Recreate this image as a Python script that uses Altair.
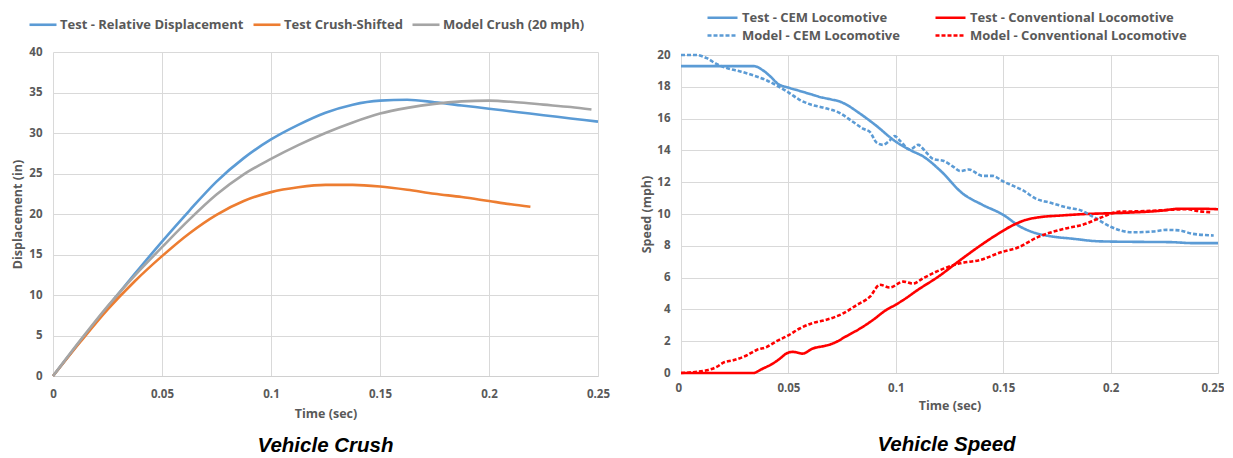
import altair as alt
import pandas as pd

# ---------------- Vehicle Crush data ----------------
crush_time = [0, 0.0125, 0.025, 0.0375, 0.05, 0.0625, 0.075, 0.0875, 0.1, 0.1125,
              0.125, 0.1375, 0.15, 0.1625, 0.175, 0.1875, 0.2, 0.2125, 0.225, 0.2375, 0.25]
test_rel_disp = [0, 4.3, 8.5, 12.6, 16.6, 20.4, 24.0, 26.9, 29.2, 31.0,
                 32.5, 33.5, 34.0, 34.1, 33.8, 33.4, 33.0, 32.6, 32.2, 31.8, 31.4]
model_time = [0, 0.0125, 0.025, 0.0375, 0.05, 0.0625, 0.075, 0.0875, 0.1, 0.1125,
              0.125, 0.1375, 0.15, 0.1625, 0.175, 0.1875, 0.2, 0.2125, 0.225, 0.2375, 0.247]
model_crush = [0, 4.4, 8.6, 12.4, 15.9, 19.3, 22.4, 24.9, 26.8, 28.5,
               30.0, 31.3, 32.4, 33.1, 33.6, 33.9, 34.0, 33.8, 33.5, 33.2, 32.9]
shift_time = [0, 0.0125, 0.025, 0.0375, 0.05, 0.0625, 0.075, 0.0875, 0.1, 0.1125,
              0.125, 0.1375, 0.15, 0.1625, 0.175, 0.1875, 0.2, 0.21, 0.219]
test_crush_shifted = [0, 4.2, 8.2, 11.7, 14.8, 17.6, 19.9, 21.6, 22.7, 23.3,
                      23.6, 23.6, 23.4, 23.0, 22.5, 22.1, 21.6, 21.2, 20.9]
crush_series = ["Test - Relative Displacement", "Test Crush-Shifted", "Model Crush (20 mph)"]
crush_colors = ["#5B9BD5", "#ED7D31", "#A5A5A5"]

# ---------------- Vehicle Speed data ----------------
tcem_time = [0, 0.02, 0.034, 0.038, 0.042, 0.045, 0.05, 0.055, 0.06, 0.065, 0.07, 0.074,
             0.078, 0.082, 0.09, 0.1, 0.107, 0.113, 0.121, 0.131, 0.14, 0.15, 0.158,
             0.165, 0.172, 0.182, 0.195, 0.21, 0.228, 0.238, 0.25]
tcem_speed = [19.3, 19.3, 19.3, 19.05, 18.6, 18.2, 17.95, 17.75, 17.55, 17.35, 17.2, 17.07,
              16.8, 16.44, 15.65, 14.55, 14.0, 13.6, 12.7, 11.3, 10.6, 9.95, 9.2,
              8.8, 8.6, 8.45, 8.28, 8.25, 8.23, 8.17, 8.17]
tconv_time = [0, 0.0335, 0.038, 0.0428, 0.046, 0.049, 0.052, 0.0566, 0.0613, 0.0667, 0.0706,
              0.0768, 0.0846, 0.0893, 0.0955, 0.1, 0.1047, 0.1094, 0.1202, 0.13, 0.1376,
              0.147, 0.1546, 0.1608, 0.167, 0.1763, 0.1887, 0.2, 0.2105, 0.223, 0.232,
              0.2415, 0.25]
tconv_speed = [0, 0, 0.27, 0.6, 0.9, 1.22, 1.33, 1.22, 1.54, 1.7, 1.85,
               2.3, 2.9, 3.33, 3.96, 4.3, 4.7, 5.15, 6.1, 7.1, 7.85,
               8.7, 9.3, 9.64, 9.8, 9.9, 10.0, 10.05, 10.1, 10.2, 10.33,
               10.33, 10.3]
mcem_time = [0, 0.007, 0.012, 0.017, 0.022, 0.028, 0.034, 0.04, 0.045, 0.05, 0.055, 0.06,
             0.066, 0.074, 0.08, 0.085, 0.088, 0.091, 0.094, 0.097, 0.0995, 0.102, 0.1066,
             0.1104, 0.114, 0.1175, 0.122, 0.127, 0.13, 0.134, 0.1403, 0.145, 0.15, 0.155,
             0.159, 0.1654, 0.1716, 0.181, 0.1855, 0.1917, 0.2, 0.205, 0.2105, 0.2198,
             0.226, 0.232, 0.238, 0.248]
mcem_speed = [20.0, 20.0, 19.8, 19.4, 19.15, 18.95, 18.7, 18.4, 18.05, 17.65, 17.2, 16.9,
              16.7, 16.35, 15.8, 15.35, 15.15, 14.5, 14.35, 14.6, 14.9, 14.6, 14.05,
              14.35, 13.9, 13.45, 13.35, 12.95, 12.7, 12.8, 12.4, 12.4, 12.05, 11.75,
              11.5, 10.95, 10.72, 10.37, 10.26, 9.84, 9.2, 8.95, 8.85, 8.9,
              9.0, 8.97, 8.76, 8.65]
mconv_time = [0, 0.0057, 0.012, 0.0166, 0.0197, 0.0243, 0.0305, 0.0352, 0.0398, 0.0445,
              0.05, 0.0553, 0.0615, 0.0677, 0.0755, 0.0817, 0.088, 0.0926, 0.0972, 0.1035,
              0.108, 0.1127, 0.122, 0.13, 0.1391, 0.15, 0.156, 0.167, 0.1763, 0.1887,
              0.195, 0.2043, 0.2137, 0.223, 0.2355, 0.2415, 0.247]
mconv_speed = [0, 0.05, 0.17, 0.38, 0.65, 0.8, 1.1, 1.45, 1.63, 2.0,
               2.37, 2.8, 3.15, 3.35, 3.75, 4.27, 4.8, 5.55, 5.38, 5.75,
               5.62, 5.96, 6.55, 6.9, 7.1, 7.64, 7.85, 8.6, 9.0, 9.4,
               9.75, 10.15, 10.17, 10.23, 10.3, 10.17, 10.1]
speed_series = ["Test - CEM Locomotive", "Test - Conventional Locomotive",
                "Model - CEM Locomotive", "Model - Conventional Locomotive"]
speed_colors = ["#5B9BD5", "#FF0000", "#5B9BD5", "#FF0000"]

x_ticks = [0, 0.05, 0.1, 0.15, 0.2, 0.25]


def frame(times, values, name, field):
    return pd.DataFrame({"t": times, "v": values, field: name, "k": range(len(times))})


crush_df = pd.concat([
    frame(crush_time, test_rel_disp, crush_series[0], "crush"),
    frame(shift_time, test_crush_shifted, crush_series[1], "crush"),
    frame(model_time, model_crush, crush_series[2], "crush"),
])
speed_df = pd.concat([
    frame(tcem_time, tcem_speed, speed_series[0], "speed"),
    frame(tconv_time, tconv_speed, speed_series[1], "speed"),
    frame(mcem_time, mcem_speed, speed_series[2], "speed"),
    frame(mconv_time, mconv_speed, speed_series[3], "speed"),
])

GRAY = "#595959"
FONT = "Open Sans"

crush = alt.Chart(crush_df).mark_line(strokeWidth=2.6, interpolate="monotone").encode(
    x=alt.X("t:Q", scale=alt.Scale(domain=[0, 0.25], nice=False),
            axis=alt.Axis(values=x_ticks, format="~g", title="Time (sec)", labelFlush=False,
                          labelPadding=12, titlePadding=8)),
    y=alt.Y("v:Q", scale=alt.Scale(domain=[0, 40], nice=False),
            axis=alt.Axis(values=list(range(0, 41, 5)), title="Displacement (in)",
                          labelPadding=11, titlePadding=4, domain=False)),
    color=alt.Color("crush:N", scale=alt.Scale(domain=crush_series, range=crush_colors),
                    legend=alt.Legend(orient="none", legendX=-25, legendY=-34,
                                      direction="horizontal", title=None,
                                      symbolType="M-1,0H4.4", symbolSize=100,
                                      symbolStrokeWidth=2.6, labelOffset=19,
                                      columnPadding=4, labelLimit=400)),
    order="k:Q",
).properties(
    width=545, height=324,
    title=alt.TitleParams("Vehicle Crush", orient="bottom", frame="group", dx=0,
                          offset=16, font="Liberation Sans", fontSize=20.5,
                          fontWeight="bold", fontStyle="italic", color="#000000"),
)

speed = alt.Chart(speed_df).mark_line(interpolate="monotone").encode(
    x=alt.X("t:Q", scale=alt.Scale(domain=[0, 0.25], nice=False),
            axis=alt.Axis(values=x_ticks, format="~g", title="Time (sec)", labelFlush=True,
                          labelFlushOffset=6, labelPadding=9, titlePadding=6)),
    y=alt.Y("v:Q", scale=alt.Scale(domain=[0, 20], nice=False),
            axis=alt.Axis(values=list(range(0, 21, 2)), title="Speed (mph)",
                          labelPadding=11, titlePadding=3, domain=False)),
    color=alt.Color("speed:N", scale=alt.Scale(domain=speed_series, range=speed_colors),
                    legend=alt.Legend(orient="none", legendX=25, legendY=-44,
                                      columns=2, direction="horizontal", title=None,
                                      symbolType="M-1,0H5", symbolSize=100, labelOffset=23,
                                      columnPadding=30, rowPadding=4, labelLimit=400)),
    strokeDash=alt.StrokeDash("speed:N", scale=alt.Scale(
        domain=speed_series, range=[[1, 0], [1, 0], [4, 2], [4, 2]])),
    strokeWidth=alt.StrokeWidth("speed:N", scale=alt.Scale(
        domain=speed_series, range=[2.6, 2.6, 1.2, 1.2])),
    order="k:Q",
).properties(
    width=537, height=318,
    title=alt.TitleParams("Vehicle Speed", orient="bottom", frame="group", dx=-3,
                          offset=23, font="Liberation Sans", fontSize=20.5,
                          fontWeight="bold", fontStyle="italic", color="#000000"),
)

chart = alt.hconcat(crush, speed, spacing=83, bounds="flush", center=True).resolve_scale(
    color="independent", strokeDash="independent", strokeWidth="independent",
    x="independent", y="independent"
).resolve_legend(
    color="independent", strokeDash="independent", strokeWidth="independent"
).properties(
    padding={"left": 3, "top": 3, "right": 0, "bottom": 0}
).configure_view(stroke=None).configure_axis(
    labelFont=FONT, labelFontWeight="bold", labelColor=GRAY, labelFontSize=11.5,
    titleFont=FONT, titleFontWeight="bold", titleColor=GRAY, titleFontSize=12.5,
    gridColor="#D9D9D9", gridWidth=1, domainColor="#D0D0D0", ticks=False, tickSize=0,
).configure_legend(
    labelFont=FONT, labelFontWeight="bold", labelColor=GRAY, labelFontSize=13,
)

chart.save("out.html", embed_options={"renderer": "svg", "actions": False})
